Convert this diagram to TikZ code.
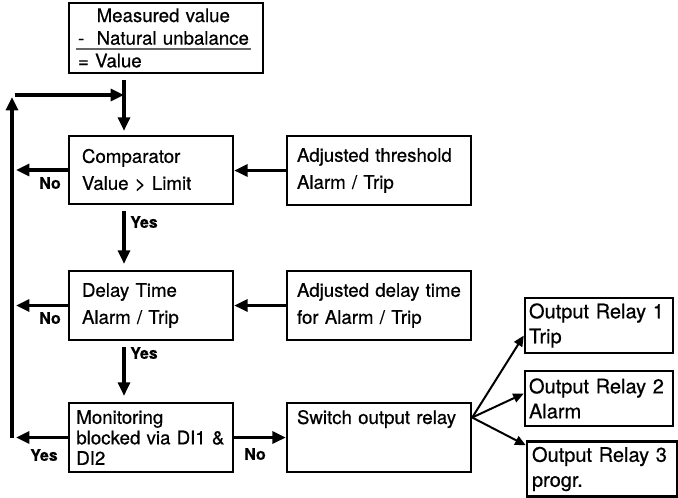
\documentclass[tikz,border=0pt]{standalone}
\usepackage{fontspec}
\setmainfont{TeX Gyre Heros}[FakeBold=0.6]
\usetikzlibrary{arrows.meta,calc}

\begin{document}
\begin{tikzpicture}[x=0.75pt,y=0.75pt,yscale=-1,
  box/.style={draw,line width=1.8pt,align=left,inner ysep=0pt,font=\fontsize{14}{20.25}\selectfont},
  relay/.style={box,minimum height=41.25pt,font=\fontsize{15}{18.75}\selectfont},
  flow/.style={line width=2.3pt,-{Triangle[length=10pt,width=9pt]}},
  thinflow/.style={line width=1.5pt,-{Triangle[length=8pt,width=7pt]}},
  lbl/.style={font=\fontsize{12}{14}\bfseries\selectfont,inner sep=0pt}]
\useasboundingbox (0,0) rectangle (678,497);

%Shape: Rectangle
\node[box,text width=132pt,inner xsep=6.75pt,minimum height=52.5pt,font=\fontsize{14}{17}\selectfont] (top) at (166,38)
  {\hphantom{-}\ \ Measured value\\ -\ \ Natural unbalance\\ = Value};
\draw[line width=0.8pt,black!60] ($(top.west)+(8,11)$) -- ($(top.east)+(-13,11)$);

%Shape: Rectangle
\node[box,text width=103.5pt,inner xsep=9.75pt,minimum height=51pt] (comp) at (151,170) {Comparator\\ Value > Limit};
\node[box,text width=103.5pt,inner xsep=9.75pt,minimum height=51.75pt] (delay) at (151,305.5) {Delay Time\\ Alarm / Trip};
\node[box,text width=112pt,inner xsep=5.5pt,minimum height=51.75pt,font=\fontsize{14}{15.4}\selectfont] (mon) at (151,437.5)
  {Monitoring\\ blocked via DI1 \&\\ DI2};

%Shape: Rectangle
\node[box,text width=123pt,inner xsep=7.5pt,minimum height=51.75pt] (thr) at (379,170.5) {Adjusted threshold\\ Alarm / Trip};
\node[box,text width=123pt,inner xsep=7.5pt,minimum height=51.75pt] (adel) at (379,305.5) {Adjusted delay time\\ for Alarm / Trip};
\node[box,text width=123pt,inner xsep=7.5pt,minimum height=51.75pt,font=\fontsize{14}{15.4}\selectfont] (sw) at (379,437.5)
  {Switch output relay\\ \mbox{}\\ \mbox{}};

%Shape: Rectangle
\node[relay,text width=105pt,inner xsep=3pt] (r1) at (599,325.5) {Output Relay 1\\ Trip};
\node[relay,text width=105pt,inner xsep=3pt] (r2) at (599,398.5) {Output Relay 2\\ Alarm};
\node[relay,text width=105pt,inner xsep=3.75pt] (r3) at (602,469) {Output Relay 3\\ progr.};

\coordinate (join) at (124,95);
\coordinate (lt) at (12,95);
\coordinate (lb) at (mon.west -| lt);
\coordinate (fan) at ($(sw.east)+(0,-20)$);

%Straight Lines
\draw[flow,shorten <=4.5pt,shorten >=3pt] (top.south -| join) -- (comp.north -| join);
\draw[flow,shorten <=4.5pt,shorten >=4.5pt] (comp.south -| join) -- (delay.north -| join);
\draw[flow,shorten <=4.5pt,shorten >=4.5pt] (delay.south -| join) -- (mon.north -| join);

%Straight Lines
\draw[flow,shorten >=3pt] (comp.west) -- (comp.west -| lt);
\draw[flow,shorten >=3pt] (delay.west) -- (delay.west -| lt);
\draw[flow,shorten >=3pt] (mon.west) -- (lb);
\draw[flow,shorten >=1.5pt] (lb) -- (lt);
\draw[flow,shorten <=2pt] (lt) -- (join);

%Straight Lines
\draw[flow] (thr.west) -- (thr.west -| comp.east);
\draw[flow] (adel.west) -- (adel.west -| delay.east);
\draw[flow] (mon.east) -- (mon.east -| sw.west);

%Straight Lines
\draw[thinflow] (fan) -- ($(r1.west)+(0,10)$);
\draw[thinflow] (fan) -- ($(r2.west)+(0,-5)$);
\draw[thinflow] (fan) -- ($(r3.north west)+(0,5)$);

% Text Node
\node[lbl] (no1) at (50,183) {No};
\node[lbl] (no2) at (50,318) {No};
\node[lbl] (no3) at (255,454) {No};
% Text Node
\node[lbl] (yes1) at (144,222) {Yes};
\node[lbl] (yes2) at (144,353) {Yes};
\node[lbl] (yes3) at (44,455) {Yes};

\end{tikzpicture}
\end{document}
